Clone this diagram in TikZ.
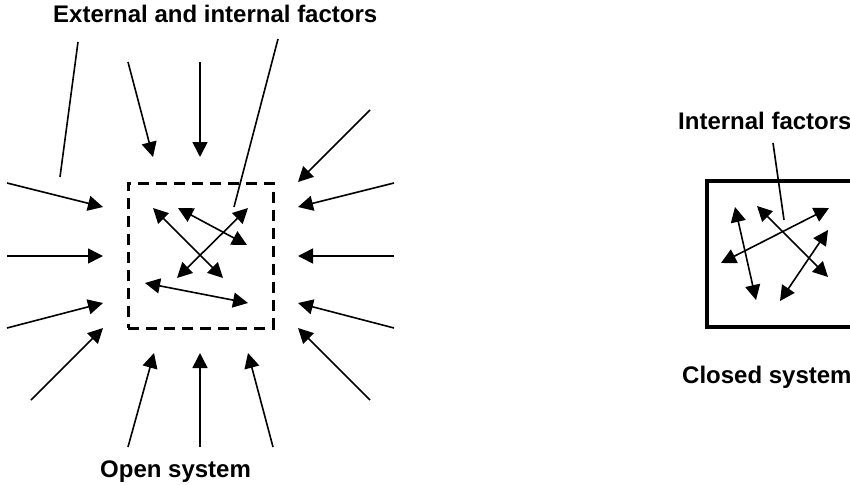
\documentclass[tikz,border=0pt]{standalone}
\usepackage{fontspec}
\setmainfont{Liberation Sans}
\usetikzlibrary{arrows.meta}
\begin{document}
\begin{tikzpicture}[x=1pt,y=-1pt,
  flow/.style={line width=1.6pt,-{Triangle[length=15pt,width=15pt]}},
  both/.style={line width=1.6pt,{Triangle[length=15pt,width=15pt]}-{Triangle[length=15pt,width=15pt]}},
  plain/.style={line width=1.6pt},
  label/.style={font=\fontsize{24}{28}\bfseries\selectfont,inner sep=0pt}]
\useasboundingbox (0,0) rectangle (850,484);
\clip (0,0) rectangle (850,484);

% ---- open system ----
\node[label,anchor=base west] (extlab) at (53,23) {External and internal factors};
\node[draw,line width=3pt,dash pattern=on 11pt off 7pt,
      minimum width=145pt,minimum height=145pt,inner sep=0pt] (open) at (200.5,255.5) {};
\node[label,anchor=base west] (openlab) at (100,477) {Open system};

% leader lines from the label
\draw[plain] (78,42) -- (60,177);
\draw[plain] (278,39) -- (234,207);

% external influences
\draw[flow] (128,62) -- (153,157);
\draw[flow] (200,62) -- (200,157);
\draw[flow] (370,110) -- (298,182);
\draw[flow] (394,183) -- (298,207);
\draw[flow] (7,183) -- (103,207);
\draw[flow] (7,256) -- (103,256);
\draw[flow] (394,256) -- (298,256);
\draw[flow] (7,328) -- (103,303);
\draw[flow] (394,328) -- (298,303);
\draw[flow] (31,400) -- (103,328);
\draw[flow] (370,400) -- (298,328);
\draw[flow] (128,447) -- (154,353);
\draw[flow] (200,447) -- (200,353);
\draw[flow] (273,447) -- (248,353);

% internal interactions
\draw[both] (153,208) -- (223,278);
\draw[both] (178,208) -- (247,245);
\draw[both] (248,208) -- (177,278);
\draw[both] (145,283) -- (248,303);

% ---- closed system ----
\node[label,anchor=base west] (intlab) at (678,129) {Internal factors};
\draw[line width=3.4pt] (862,181) -- (707,181) -- (707,327) -- (862,327);
\node[label,anchor=base west] (closedlab) at (682,383) {Closed system};
\draw[plain] (773,143) -- (784,220);

\draw[both] (735,207) -- (756,300);
\draw[both] (757,206) -- (828,277);
\draw[both] (721,263) -- (829,208);
\draw[both] (828,230) -- (780,301);
\end{tikzpicture}
\end{document}
